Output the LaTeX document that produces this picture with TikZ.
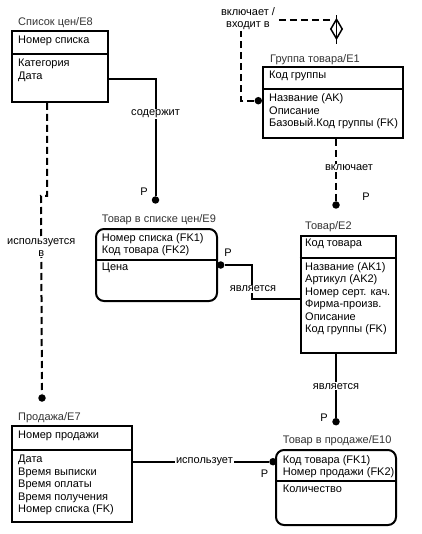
\documentclass[tikz,border=0pt]{standalone}
\usepackage{fontspec}
\setmainfont{Liberation Sans}
\usetikzlibrary{shapes.geometric}

\begin{document}
\begin{tikzpicture}[x=1pt, y=-1pt,
    entity/.style={rectangle, draw, line width=2pt, inner sep=0pt},
    depent/.style={entity, rounded corners=8pt},
    divider/.style={line width=2pt},
    title/.style={anchor=base west, inner sep=0pt, text=black!80, font=\fontsize{11}{12.5}\selectfont},
    attr/.style={anchor=base west, inner sep=0pt, align=left, font=\fontsize{11}{12.5}\selectfont},
    rel/.style={line width=2pt},
    nonid/.style={line width=2pt, dash pattern=on 7pt off 4pt},
    verb/.style={fill=white, inner sep=1pt, align=center, font=\fontsize{11}{12}\selectfont},
    pnt/.style={circle, fill, inner sep=0pt, minimum size=7.5pt},
    card/.style={inner sep=0pt, font=\fontsize{11}{12.5}\selectfont}
]
\useasboundingbox (0,0) rectangle (421,534);

% -- Список цен/E8 --
\node[entity, minimum width=96pt, minimum height=71pt] (e8) at (60,66.5) {};
\draw[divider] (e8.west |- 0,54) -- (e8.east |- 0,54);
\node[title] (e8t) at (18,25.5) {Список цен/E8};
\node[attr] (e8k) at (18,44) {Номер списка};
\node[attr] (e8a) at (18,79.5) {Категория\\Дата};

% -- Группа товара/E1 --
\node[entity, minimum width=140pt, minimum height=71pt] (e1) at (333,102.5) {};
\draw[divider] (e1.west |- 0,89) -- (e1.east |- 0,89);
\node[title] (e1t) at (270,63) {Группа товара/E1};
\node[attr] (e1k) at (269,79) {Код группы};
\node[attr] (e1a) at (269,126.7) {Название (AK)\\Описание\\Базовый.Код группы (FK)};

% -- Товар в списке цен/E9 --
\node[depent, minimum width=121pt, minimum height=72pt] (e9) at (156.5,265) {};
\draw[divider] (e9.west |- 0,260) -- (e9.east |- 0,260);
\node[title] (e9t) at (101.7,222.7) {Товар в списке цен/E9};
\node[attr] (e9k) at (101.7,253.5) {Номер списка (FK1)\\Код товара (FK2)};
\node[attr] (e9a) at (101.7,270.7) {Цена};

% -- Товар/E2 --
\node[entity, minimum width=95.5pt, minimum height=116.5pt] (e2) at (348.25,294.25) {};
\draw[divider] (e2.west |- 0,258.3) -- (e2.east |- 0,258.3);
\node[title] (e2t) at (305,229.3) {Товар/E2};
\node[attr] (e2k) at (305,246.7) {Код товара};
\node[attr] (e2a) at (305,332.5) {Название (AK1)\\Артикул (AK2)\\Номер серт. кач.\\Фирма-произв.\\Описание\\Код группы (FK)};

% -- Продажа/E7 --
\node[entity, minimum width=120pt, minimum height=96pt] (e7) at (72,474) {};
\draw[divider] (e7.west |- 0,450) -- (e7.east |- 0,450);
\node[title] (e7t) at (18,420.7) {Продажа/E7};
\node[attr] (e7k) at (18,438.3) {Номер продажи};
\node[attr] (e7a) at (18,512.7) {Дата\\Время выписки\\Время оплаты\\Время получения\\Номер списка (FK)};

% -- Товар в продаже/E10 --
\node[depent, minimum width=120pt, minimum height=75pt] (e10) at (336,487.5) {};
\draw[divider] (e10.west |- 0,480.7) -- (e10.east |- 0,480.7);
\node[title] (e10t) at (282.7,443) {Товар в продаже/E10};
\node[attr] (e10k) at (282.7,475.5) {Код товара (FK1)\\Номер продажи (FK2)};
\node[attr] (e10a) at (282.7,492.7) {Количество};

% -- relationship ends --
\node[pnt] (d1) at (155.5,200) {};
\node[pnt] (d2) at (42,398) {};
\node[pnt] (d3) at (258.3,100.7) {};
\node[pnt] (d4) at (336,205) {};
\node[pnt] (d5) at (220.7,265) {};
\node[pnt] (d6) at (336,421.7) {};
\node[pnt] (d7) at (273,461.7) {};
\node[draw, diamond, line width=1.5pt, minimum width=12pt, minimum height=20pt, inner sep=0pt] (dmd) at (336.5,29) {};
\coordinate (loop) at (241,20);
\coordinate (b5) at (252,299);

% -- connectors --
\draw[rel] (e8.east |- 0,79) -| (d1)
  node[pos=0.65, verb] (v1) {содержит};
\draw[nonid] ([xshift=36pt]e8.south west) -- ++(0,93) -- ++(-6,0) -- (d2)
  node[pos=0.26, verb] (v2) {используется\\в};
\draw[nonid] (d3) -| (loop) -- (dmd.north west |- loop);
\draw[line width=1.5pt] ([yshift=3pt]dmd.north) -- ([yshift=-4pt]dmd.south);
\node[verb] (v3) at (248,19) {включает /\\входит в};
\draw[nonid] (e1.south -| d4) -- (d4)
  node[pos=0.46, verb, xshift=13pt] (v4) {включает};
\draw[rel] (d5) -| (b5) -- (e2.west |- b5);
\node[verb] (v5) at (253,289) {является};
\draw[rel] (e2.south -| d6) -- (d6)
  node[pos=0.51, verb] (v6) {является};
\draw[rel] (e7.east |- d7) -- (d7)
  node[pos=0.525, verb] (v7) {использует};

% -- cardinality --
\node[card] (p1) at (144,192) {P};
\node[card] (p4) at (366,196.7) {P};
\node[card] (p5) at (228,252.7) {P};
\node[card] (p6) at (324,418) {P};
\node[card] (p7) at (264.5,474) {P};

\end{tikzpicture}
\end{document}
